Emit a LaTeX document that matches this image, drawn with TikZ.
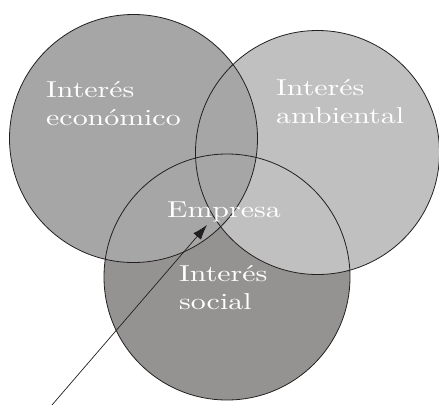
\documentclass[tikz,border=0pt]{standalone}
\usepackage{fontspec}
\setmainfont{lmroman10-regular}[Extension=.otf, FakeStretch=1.3]
\usetikzlibrary{arrows.meta}
\definecolor{leftgray}{RGB}{166,166,166}
\definecolor{rightgray}{RGB}{192,192,192}
\definecolor{bottomgray}{RGB}{148,147,145}
\definecolor{edgegray}{RGB}{35,31,32}
\tikzset{
  venntext/.style={text=white, font=\fontsize{23}{28}\selectfont, align=left, inner sep=0pt, anchor=base west},
  rim/.style={draw=edgegray, line width=0.8pt}
}
\begin{document}
\begin{tikzpicture}[x=1pt, y=-1pt]
    \useasboundingbox (0,0) rectangle (439,405);

    % 円 (塗り)
    \fill[bottomgray] (227,277) circle [radius=123pt];
    \fill[rightgray] (317.5,152.5) circle [radius=122pt];
    \fill[leftgray] (133.5,138.5) circle [radius=124pt];

    % 円 (輪郭)
    \draw[rim] (227,277) circle [radius=123pt];
    \draw[rim] (317.5,152.5) circle [radius=122pt];
    \draw[rim] (133.5,138.5) circle [radius=124pt];

    % ラベル
    \node[venntext] (economico) at (46,125) {Interés\\económico};
    \node[venntext] (ambiental) at (276,123) {Interés\\ambiental};
    \node[venntext] (social) at (179,309) {Interés\\social};
    \node[venntext, anchor=base] (empresa) at (224,217) {Empresa};

    % 矢印
    \coordinate (pointer) at (52,405);
    \coordinate (tip) at (207,225);
    \draw[-{Latex[length=15pt, width=10pt]}, edgegray, line width=0.7pt] (pointer) -- (tip);
\end{tikzpicture}
\end{document}
